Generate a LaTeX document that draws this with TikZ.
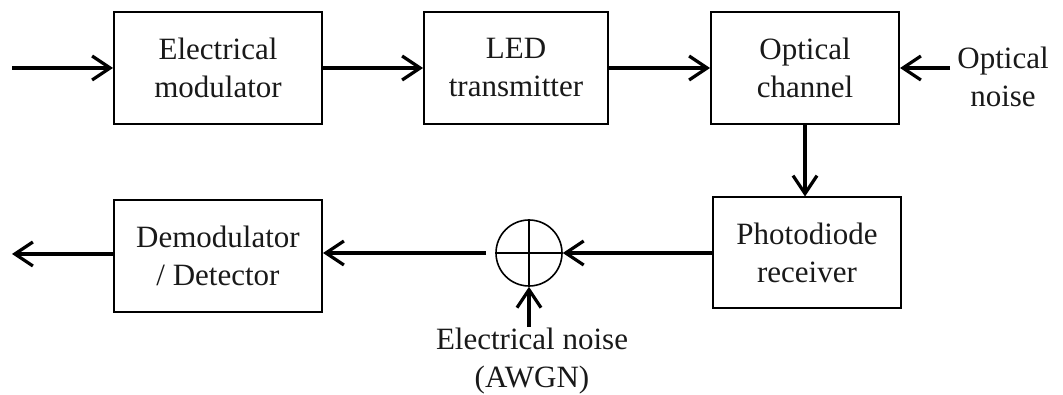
\documentclass[tikz,border=0pt]{standalone}
\usepackage{fontspec}
\setmainfont{Liberation Serif}
\usetikzlibrary{arrows.meta}
\begin{document}
\begin{tikzpicture}[x=1pt,y=-1pt,
  txt/.style={font=\fontsize{31}{38}\selectfont, align=center, text=black!90},
  blk/.style={txt, draw, line width=2pt, minimum height=112pt, inner sep=0pt},
  flow/.style={line width=3.2pt, -{Straight Barb[length=18pt,width=24pt,line width=3.2pt]}},
]
\useasboundingbox (0,0) rectangle (1063,395);
\node[blk, minimum width=208pt] (em) at (218,68) {Electrical\\modulator};
\node[blk, minimum width=184pt] (led) at (516,68) {LED\\transmitter};
\node[blk, minimum width=188pt] (oc) at (805,68) {Optical\\channel};
\node[blk, minimum width=188pt, minimum height=111pt] (pd) at (807,253) {Photodiode\\receiver};
\node[blk, minimum width=208pt] (dd) at (218,256) {Demodulator\\/ Detector};
\node[draw, circle, line width=1.6pt, minimum size=66pt, inner sep=0pt] (sum) at (529,253) {};
\draw[line width=1.6pt] (sum.north) -- (sum.south) (sum.west) -- (sum.east);
\node[txt] (on) at (1003,77) {Optical\\noise};
\node[txt] (en) at (532,361) {Electrical noise\\(AWGN)};
\coordinate (in) at (12,68);
\coordinate (out) at (12,254);
\coordinate (onw) at (950,68);
\coordinate (enn) at (529,327);
\draw[flow] (in) -- (em.west);
\draw[flow] (em.east) -- (led.west);
\draw[flow] (led.east) -- (oc.west);
\draw[flow] (onw) -- (oc.east);
\draw[flow] (oc.south) -- (oc.south |- pd.north);
\draw[flow] (pd.west) -- (sum.east);
\draw[flow, shorten <=9pt] (sum.west) -- (dd.east |- sum.west);
\draw[flow] (dd.west |- out) -- (out);
\draw[flow] (enn) -- (sum.south);
\end{tikzpicture}
\end{document}
